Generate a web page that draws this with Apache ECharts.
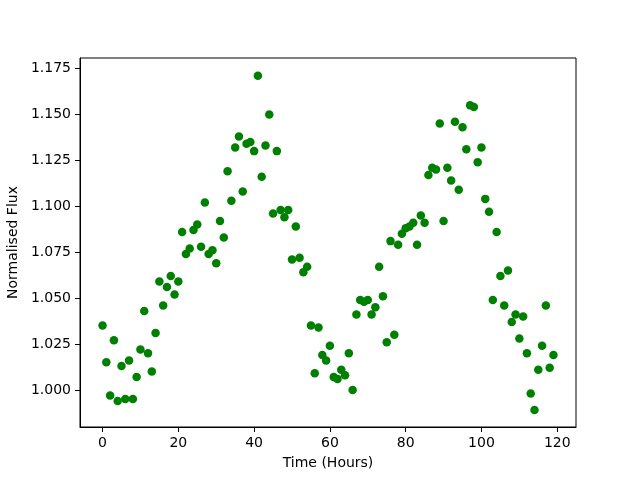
<!DOCTYPE html>
<html>
<head>
<meta charset="utf-8">
<script src="https://cdn.jsdelivr.net/npm/echarts@6/dist/echarts.min.js"></script>
<style>
  html, body { margin: 0; padding: 0; background: #fff; }
  #chart { width: 640px; height: 480px; }
</style>
</head>
<body>
<div id="chart"></div>
<script>
// hours 0..119, one reading per hour
const hours = [];
for (let h = 0; h < 120; h++) hours.push(h);

const flux = [
  1.035, 1.015, 0.997, 1.027, 0.994, 1.013, 0.995, 1.016, 0.995, 1.007,
  1.022, 1.043, 1.020, 1.010, 1.031, 1.059, 1.046, 1.056, 1.062, 1.052,
  1.059, 1.086, 1.074, 1.077, 1.087, 1.090, 1.078, 1.102, 1.074, 1.076,
  1.069, 1.092, 1.083, 1.119, 1.103, 1.132, 1.138, 1.108, 1.134, 1.135,
  1.130, 1.171, 1.116, 1.133, 1.150, 1.096, 1.130, 1.098, 1.094, 1.098,
  1.071, 1.089, 1.072, 1.064, 1.067, 1.035, 1.009, 1.034, 1.019, 1.016,
  1.024, 1.007, 1.006, 1.011, 1.008, 1.020, 1.000, 1.041, 1.049, 1.048,
  1.049, 1.041, 1.045, 1.067, 1.051, 1.026, 1.081, 1.030, 1.079, 1.085,
  1.088, 1.089, 1.091, 1.079, 1.095, 1.091, 1.117, 1.121, 1.120, 1.145,
  1.092, 1.121, 1.114, 1.146, 1.109, 1.143, 1.131, 1.155, 1.154, 1.124,
  1.132, 1.104, 1.097, 1.049, 1.086, 1.062, 1.046, 1.065, 1.037, 1.041,
  1.028, 1.040, 1.020, 0.998, 0.989, 1.011, 1.024, 1.046, 1.012, 1.019
];

const xTicks = [0, 20, 40, 60, 80, 100, 120];
const yTicks = [1.000, 1.025, 1.050, 1.075, 1.100, 1.125, 1.150, 1.175];

const points = hours.map((h, i) => [h, flux[i]]);

const font = 'DejaVu Sans';
const chart = echarts.init(document.getElementById('chart'), null, { renderer: 'canvas' });

chart.setOption({
  animation: false,
  backgroundColor: '#fff',
  grid: {
    left: 80, right: 64, top: 58, bottom: 53,
    outerBoundsMode: 'none',
    containLabel: false,
    show: true, borderColor: '#000', borderWidth: 1, backgroundColor: 'transparent'
  },
  xAxis: {
    type: 'value',
    min: -5.95, max: 124.95,
    name: 'Time (Hours)',
    nameLocation: 'middle',
    nameGap: 29,
    nameTextStyle: { fontFamily: font, fontSize: 14, color: '#000' },
    axisLine: { show: true, onZero: false, lineStyle: { color: '#000', width: 1 } },
    axisTick: { show: true, length: 5, customValues: xTicks, lineStyle: { color: '#000' } },
    axisLabel: {
      customValues: xTicks, margin: 9, fontFamily: font, fontSize: 14, color: '#000'
    },
    splitLine: { show: false }
  },
  yAxis: {
    type: 'value',
    min: 0.9798, max: 1.1807,
    name: 'Normalised Flux',
    nameLocation: 'middle',
    nameGap: 53,
    nameTextStyle: { fontFamily: font, fontSize: 14, color: '#000' },
    axisLine: { show: true, onZero: false, lineStyle: { color: '#000', width: 1 } },
    axisTick: { show: true, length: 5, customValues: yTicks, lineStyle: { color: '#000' } },
    axisLabel: {
      customValues: yTicks, margin: 9, fontFamily: font, fontSize: 14, color: '#000',
      formatter: v => v.toFixed(3)
    },
    splitLine: { show: false }
  },
  series: [{
    type: 'scatter',
    data: points,
    symbol: 'circle',
    symbolSize: 8.5,
    itemStyle: { color: '#008000', opacity: 1 }
  }]
});
</script>
</body>
</html>
